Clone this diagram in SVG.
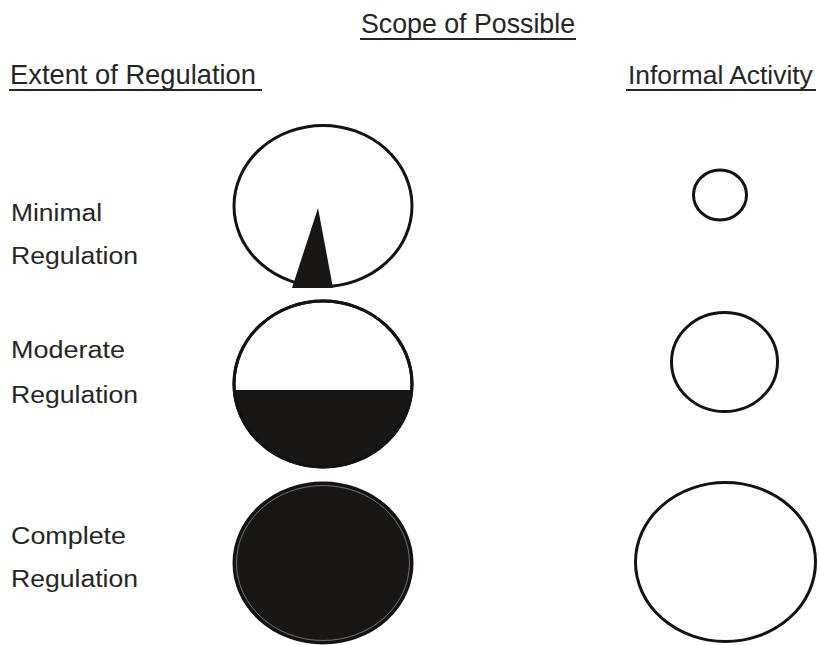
<svg xmlns="http://www.w3.org/2000/svg" width="820" height="645" viewBox="0 0 820 645">
  <style>
    .head { font-family: "Liberation Sans", Arial, sans-serif; font-size: 28px; fill: #262626; }
    .lbl { font-family: "Liberation Sans", Arial, sans-serif; font-size: 23px; fill: #262626; }
    .ul { stroke: #262626; stroke-width: 2.2; }
    .ring { fill: #ffffff; stroke: #141212; stroke-width: 3; }
    .ink { fill: #1a1616; }
  </style>
  <rect width="820" height="645" fill="#ffffff"/>

  <!-- column headings -->
  <g id="heading-scope">
    <text class="head" x="361" y="33" textLength="214" lengthAdjust="spacingAndGlyphs">Scope of Possible</text>
    <line class="ul" x1="360" y1="39" x2="576" y2="39"/>
  </g>
  <g id="heading-extent">
    <text class="head" x="10" y="84" textLength="246" lengthAdjust="spacingAndGlyphs">Extent of Regulation</text>
    <line class="ul" x1="9" y1="90" x2="262" y2="90"/>
  </g>
  <g id="heading-informal">
    <text class="head" x="628" y="84" style="font-size:26.4px">Informal Activity</text>
    <line class="ul" x1="626" y1="90" x2="816" y2="90"/>
  </g>

  <!-- row labels -->
  <g id="label-minimal">
    <text class="lbl" x="11" y="221" textLength="91" lengthAdjust="spacingAndGlyphs">Minimal</text>
    <text class="lbl" x="11" y="264" textLength="127" lengthAdjust="spacingAndGlyphs">Regulation</text>
  </g>
  <g id="label-moderate">
    <text class="lbl" x="11" y="358" textLength="114" lengthAdjust="spacingAndGlyphs">Moderate</text>
    <text class="lbl" x="11" y="403" textLength="127" lengthAdjust="spacingAndGlyphs">Regulation</text>
  </g>
  <g id="label-complete">
    <text class="lbl" x="11" y="544" textLength="115" lengthAdjust="spacingAndGlyphs">Complete</text>
    <text class="lbl" x="11" y="587" textLength="127" lengthAdjust="spacingAndGlyphs">Regulation</text>
  </g>

  <!-- scope of possible: minimal regulation, a narrow wedge -->
  <g id="scope-minimal">
    <ellipse class="ring" cx="323" cy="206" rx="89" ry="80.5"/>
    <polygon class="ink" points="318,208 292,288 333,288"/>
  </g>

  <!-- scope of possible: moderate regulation, lower part filled -->
  <g id="scope-moderate">
    <defs>
      <clipPath id="lower-part">
        <rect x="220" y="390" width="200" height="90"/>
      </clipPath>
    </defs>
    <ellipse class="ring" cx="323" cy="384" rx="89" ry="83"/>
    <ellipse class="ink" cx="323" cy="384" rx="89" ry="83" clip-path="url(#lower-part)"/>
    <ellipse cx="323" cy="384" rx="89" ry="83" fill="none" stroke="#141212" stroke-width="3"/>
  </g>

  <!-- scope of possible: complete regulation, fully filled -->
  <g id="scope-complete">
    <ellipse cx="323" cy="563" rx="89" ry="80" fill="#1a1616" stroke="#141212" stroke-width="3"/>
    <ellipse cx="323" cy="563" rx="86.5" ry="77.5" fill="none" stroke="#8a8585" stroke-width="0.8"/>
  </g>

  <!-- informal activity circles -->
  <g id="informal-minimal">
    <ellipse class="ring" cx="720" cy="195" rx="26.5" ry="25"/>
  </g>
  <g id="informal-moderate">
    <ellipse class="ring" cx="724.5" cy="362" rx="53" ry="49.5"/>
  </g>
  <g id="informal-complete">
    <ellipse class="ring" cx="725.5" cy="562" rx="90" ry="79.5"/>
  </g>
</svg>
